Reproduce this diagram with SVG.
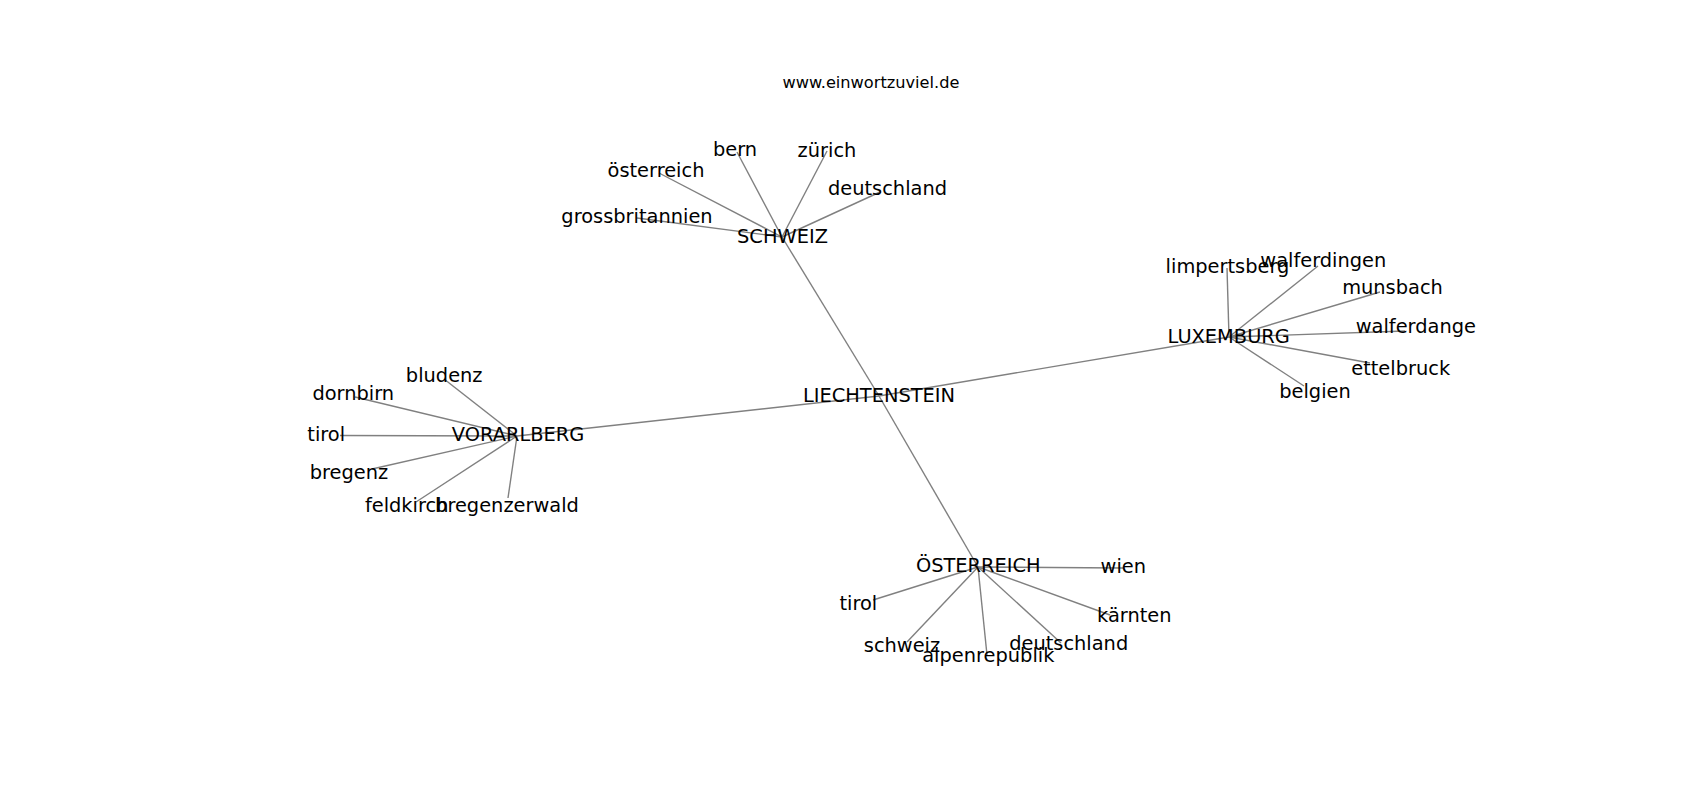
<svg xmlns="http://www.w3.org/2000/svg" width="1700" height="800" viewBox="0 0 1700 800">
<style>
.e{stroke:#808080;stroke-width:1.4;fill:none}
.n text{font-family:"DejaVu Sans","Liberation Sans",sans-serif;font-size:19.4px;fill:#000;text-anchor:middle}
.t{font-family:"DejaVu Sans","Liberation Sans",sans-serif;font-size:16.2px;fill:#000;text-anchor:middle}
</style>
<rect width="1700" height="800" fill="#fff"/>
<text class="t" x="871" y="88">www.einwortzuviel.de</text>
<g id="edges">
<line class="e" x1="879" y1="396" x2="782" y2="237"/>
<line class="e" x1="879" y1="396" x2="1229" y2="337"/>
<line class="e" x1="879" y1="396" x2="517" y2="436"/>
<line class="e" x1="879" y1="396" x2="978" y2="567"/>
<line class="e" x1="782" y1="237" x2="737" y2="152"/>
<line class="e" x1="782" y1="237" x2="827" y2="151"/>
<line class="e" x1="782" y1="237" x2="659" y2="173"/>
<line class="e" x1="782" y1="237" x2="880" y2="192"/>
<line class="e" x1="782" y1="237" x2="637" y2="218"/>
<line class="e" x1="1229" y1="337" x2="1227" y2="268"/>
<line class="e" x1="1229" y1="337" x2="1318" y2="266"/>
<line class="e" x1="1229" y1="337" x2="1380" y2="292"/>
<line class="e" x1="1229" y1="337" x2="1405" y2="331"/>
<line class="e" x1="1229" y1="337" x2="1370" y2="363"/>
<line class="e" x1="1229" y1="337" x2="1304" y2="386"/>
<line class="e" x1="517" y1="436" x2="444" y2="379"/>
<line class="e" x1="517" y1="436" x2="355" y2="397"/>
<line class="e" x1="517" y1="436" x2="340" y2="435.5"/>
<line class="e" x1="517" y1="436" x2="372" y2="469"/>
<line class="e" x1="517" y1="436" x2="416" y2="502"/>
<line class="e" x1="517" y1="436" x2="508" y2="498"/>
<line class="e" x1="978" y1="567" x2="1123" y2="568"/>
<line class="e" x1="978" y1="567" x2="873" y2="600"/>
<line class="e" x1="978" y1="567" x2="1110" y2="615"/>
<line class="e" x1="978" y1="567" x2="907" y2="642"/>
<line class="e" x1="978" y1="567" x2="1061" y2="643"/>
<line class="e" x1="978" y1="567" x2="987" y2="655"/>
</g>
<g id="LIECHTENSTEIN" class="n"><text x="879" y="402">LIECHTENSTEIN</text></g>
<g id="SCHWEIZ" class="n"><text x="782.5" y="242.7">SCHWEIZ</text></g>
<g id="bern" class="n"><text x="735" y="156">bern</text></g>
<g id="zuerich" class="n"><text x="827" y="156.5">zürich</text></g>
<g id="oesterreich" class="n"><text x="656" y="176.7">österreich</text></g>
<g id="deutschland1" class="n"><text x="887.5" y="195">deutschland</text></g>
<g id="grossbritannien" class="n"><text x="637" y="222.7">grossbritannien</text></g>
<g id="LUXEMBURG" class="n"><text x="1228.7" y="342.7">LUXEMBURG</text></g>
<g id="limpertsberg" class="n"><text x="1227.5" y="272.7">limpertsberg</text></g>
<g id="walferdingen" class="n"><text x="1323.3" y="267">walferdingen</text></g>
<g id="munsbach" class="n"><text x="1392.5" y="294">munsbach</text></g>
<g id="walferdange" class="n"><text x="1415.8" y="333.3">walferdange</text></g>
<g id="ettelbruck" class="n"><text x="1400.7" y="375">ettelbruck</text></g>
<g id="belgien" class="n"><text x="1315" y="398.3">belgien</text></g>
<g id="VORARLBERG" class="n"><text x="518" y="441">VORARLBERG</text></g>
<g id="bludenz" class="n"><text x="444.2" y="381.7">bludenz</text></g>
<g id="dornbirn" class="n"><text x="353.3" y="400">dornbirn</text></g>
<g id="tirol1" class="n"><text x="326.2" y="440.7">tirol</text></g>
<g id="bregenz" class="n"><text x="349" y="479.3">bregenz</text></g>
<g id="feldkirch" class="n"><text x="406.7" y="511.7">feldkirch</text></g>
<g id="bregenzerwald" class="n"><text x="507" y="511.7">bregenzerwald</text></g>
<g id="OESTERREICH" class="n"><text x="978.3" y="571.7">ÖSTERREICH</text></g>
<g id="wien" class="n"><text x="1123.3" y="573.3">wien</text></g>
<g id="tirol2" class="n"><text x="858.3" y="610">tirol</text></g>
<g id="kaernten" class="n"><text x="1134.3" y="621.7">kärnten</text></g>
<g id="schweiz" class="n"><text x="902" y="651.7">schweiz</text></g>
<g id="deutschland2" class="n"><text x="1068.7" y="650">deutschland</text></g>
<g id="alpenrepublik" class="n"><text x="988.3" y="661.7">alpenrepublik</text></g>
</svg>
